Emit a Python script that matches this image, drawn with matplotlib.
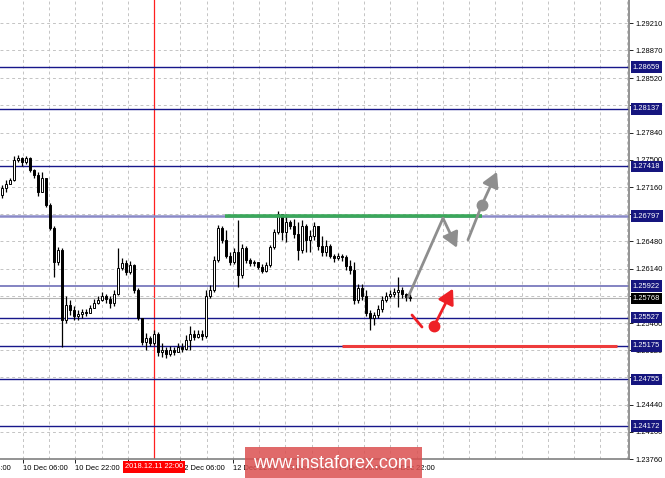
import matplotlib
matplotlib.use("Agg")
import matplotlib.pyplot as plt
import matplotlib.transforms as mtransforms
from matplotlib.patches import Rectangle

plt.rcParams['font.family'] = ['Liberation Sans', 'DejaVu Sans']

# -----------------------------
# Data
# -----------------------------
first_open = 1.2706

closes = [1.2715, 1.2720, 1.2725, 1.2750, 1.2752, 1.2747, 1.2752, 1.2737, 1.2731, 1.2710,
          1.2727, 1.2694, 1.2665, 1.2622, 1.2637, 1.2550, 1.2569, 1.2562, 1.2555, 1.2557,
          1.2560, 1.2559, 1.2565, 1.2571, 1.2575, 1.2580, 1.2576, 1.2571, 1.2582, 1.2615,
          1.2621, 1.2610, 1.2619, 1.2587, 1.2552, 1.2522, 1.2527, 1.2521, 1.2532, 1.2510,
          1.2512, 1.2507, 1.2512, 1.2510, 1.2516, 1.2514, 1.2525, 1.2532, 1.2529, 1.2532,
          1.2530, 1.2580, 1.2587, 1.2625, 1.2665, 1.2650, 1.2630, 1.2622, 1.2635, 1.2606,
          1.2640, 1.2625, 1.2621, 1.2622, 1.2616, 1.2611, 1.2619, 1.2641, 1.2660, 1.2682,
          1.2660, 1.2672, 1.2667, 1.2657, 1.2637, 1.2667, 1.2650, 1.2655, 1.2667, 1.2642,
          1.2635, 1.2642, 1.2630, 1.2627, 1.2630, 1.2629, 1.2617, 1.2612, 1.2575, 1.2590,
          1.2580, 1.2559, 1.2552, 1.2556, 1.2564, 1.2575, 1.2580, 1.2582, 1.2585, 1.2587,
          1.2582, 1.2579, 1.2577]

highs = [1.2719, 1.2725, 1.2727, 1.2755, 1.2756, 1.2754, 1.2755, 1.2754, 1.2739, 1.2735,
         1.2735, 1.2717, 1.2696, 1.2667, 1.2641, 1.2640, 1.2580, 1.2575, 1.2567, 1.2562,
         1.2564, 1.2564, 1.2569, 1.2576, 1.2580, 1.2585, 1.2582, 1.2580, 1.2587, 1.2640,
         1.2627, 1.2625, 1.2624, 1.2620, 1.2590, 1.2552, 1.2534, 1.2530, 1.2537, 1.2535,
         1.2521, 1.2516, 1.2517, 1.2516, 1.2521, 1.2521, 1.2531, 1.2542, 1.2537, 1.2537,
         1.2537, 1.2587, 1.2594, 1.2630, 1.2669, 1.2667, 1.2662, 1.2635, 1.2640, 1.2675,
         1.2645, 1.2642, 1.2627, 1.2625, 1.2622, 1.2620, 1.2622, 1.2644, 1.2664, 1.2686,
         1.2682, 1.2682, 1.2675, 1.2676, 1.2672, 1.2675, 1.2670, 1.2662, 1.2672, 1.2665,
         1.2655, 1.2650, 1.2645, 1.2632, 1.2634, 1.2632, 1.2631, 1.2625, 1.2622, 1.2595,
         1.2595, 1.2587, 1.2562, 1.2560, 1.2569, 1.2580, 1.2585, 1.2587, 1.2590, 1.2604,
         1.2591, 1.2584, 1.2582]

lows = [1.2702, 1.2710, 1.2720, 1.2724, 1.2747, 1.2742, 1.2745, 1.2735, 1.2727, 1.2705,
        1.2710, 1.2691, 1.2662, 1.2604, 1.2619, 1.2516, 1.2546, 1.2556, 1.2550, 1.2550,
        1.2552, 1.2555, 1.2559, 1.2565, 1.2570, 1.2574, 1.2571, 1.2565, 1.2567, 1.2581,
        1.2612, 1.2606, 1.2607, 1.2584, 1.2550, 1.2519, 1.2512, 1.2517, 1.2519, 1.2505,
        1.2504, 1.2502, 1.2505, 1.2506, 1.2510, 1.2510, 1.2512, 1.2512, 1.2525, 1.2527,
        1.2525, 1.2527, 1.2577, 1.2585, 1.2622, 1.2646, 1.2627, 1.2619, 1.2620, 1.2591,
        1.2602, 1.2621, 1.2617, 1.2617, 1.2614, 1.2609, 1.2610, 1.2616, 1.2639, 1.2657,
        1.2650, 1.2647, 1.2664, 1.2652, 1.2625, 1.2634, 1.2635, 1.2635, 1.2650, 1.2637,
        1.2630, 1.2630, 1.2627, 1.2622, 1.2625, 1.2624, 1.2612, 1.2607, 1.2570, 1.2571,
        1.2575, 1.2555, 1.2537, 1.2544, 1.2552, 1.2560, 1.2572, 1.2577, 1.2579, 1.2566,
        1.2577, 1.2574, 1.2574]

price_ticks = [1.29210, 1.28870, 1.28520, 1.28180, 1.27840, 1.27500, 1.27160, 1.26820,
               1.26480, 1.26140, 1.25800, 1.25460, 1.25120, 1.24780, 1.24440, 1.24100,
               1.23760]

time_labels = ["10 Dec 06:00", "10 Dec 22:00", "11 Dec 14:00", "12 Dec 06:00",
               "12 Dec 22:00", "13 Dec 14:00", "14 Dec 06:00", "14 Dec 22:00"]

levels = [1.28659, 1.28137, 1.27418, 1.26797, 1.25922, 1.25527, 1.25175, 1.24755, 1.24172]
current_price = 1.25768
resistance = 1.26797
support = 1.25175

# -----------------------------
# Figure
# -----------------------------
fig = plt.figure(figsize=(6.65, 4.78), dpi=100)
ax = fig.add_axes([0.0, 19 / 478, 629 / 665, 459 / 478])

x_min, x_max = -0.5, 156.75
ax.set_xlim(x_min, x_max)
ax.set_ylim(1.23760, 1.29498)

# grid
grid_x = [5.2 + 6.5625 * k for k in range(24)]
for gx in grid_x:
    ax.axvline(gx, color='#c4c4c4', lw=0.7, ls=(0, (3, 3)), zorder=0)
for gy in price_ticks:
    ax.axhline(gy, color='#c4c4c4', lw=0.7, ls=(0, (3, 3)), zorder=0)

# red separator line
ax.axvline(38, color='#ff2020', lw=0.9, zorder=1)

# horizontal levels
navy = '#17178a'
level_style = {
    1.26797: ('#8a8ac8', 1.8),
    1.25922: ('#6e6eb8', 1.2),
}
for lv in levels:
    col, lw = level_style.get(lv, (navy, 1.0))
    ax.axhline(lv, color=col, lw=lw, zorder=2)
ax.axhline(current_price, color='#b4b4b4', lw=0.8, zorder=2)

# candles
opens = [first_open] + closes[:-1]
for i, (o, h, l, c) in enumerate(zip(opens, highs, lows, closes)):
    top = max(h, o, c)
    bot = min(l, o, c)
    ax.vlines(i, bot, top, color='black', lw=0.9, zorder=3)
    height = max(abs(c - o), 0.00005)
    if c >= o:
        ax.add_patch(Rectangle((i - 0.36, o), 0.72, height, fc='white',
                               ec='black', lw=0.7, zorder=4))
    else:
        ax.add_patch(Rectangle((i - 0.36, c), 0.72, height, fc='black',
                               ec='black', lw=0.7, zorder=4))

# green resistance and red support segments
ax.plot([55.75, 120], [resistance, resistance], color='#3aa85a', lw=2.6,
        solid_capstyle='butt', zorder=5)
ax.plot([85, 153.75], [support, support], color='#ee3c3c', lw=2.2,
        solid_capstyle='butt', zorder=5)

# scenario arrows
gray = '#8e8e8e'
ax.plot([101.5, 110.25], [1.2578, 1.2677], color=gray, lw=2, zorder=6,
        solid_capstyle='round')
arrow_kw = dict(arrowstyle='-|>,head_length=0.9,head_width=0.5', lw=2,
                mutation_scale=10, shrinkA=0, shrinkB=0)
ax.annotate('', xy=(113.75, 1.2640), xytext=(110.25, 1.2677),
            arrowprops=dict(color=gray, **arrow_kw), zorder=6)
ax.plot([116.5, 120], [1.2650, 1.2694], color=gray, lw=2, zorder=6,
        solid_capstyle='round')
ax.plot([120], [1.2694], 'o', color=gray, ms=7.5, zorder=7)
ax.annotate('', xy=(123.75, 1.2735), xytext=(120, 1.2694),
            arrowprops=dict(color=gray, **arrow_kw), zorder=6)

red = '#ee2026'
ax.plot([102.5, 105], [1.2556, 1.2541], color=red, lw=2, zorder=6,
        solid_capstyle='round')
ax.plot([108], [1.2542], 'o', color=red, ms=7.5, zorder=7)
ax.annotate('', xy=(112.75, 1.2589), xytext=(108, 1.2542),
            arrowprops=dict(color=red, **arrow_kw), zorder=6)

# axes styling
for side in ['left', 'top']:
    ax.spines[side].set_visible(False)
ax.spines['right'].set_color('#808080')
ax.spines['bottom'].set_color('#808080')
ax.spines['right'].set_linewidth(1.2)
ax.spines['bottom'].set_linewidth(1.2)

ax.yaxis.tick_right()
ax.set_yticks(price_ticks)
ax.set_yticklabels([f"{p:.5f}" for p in price_ticks])
ax.tick_params(axis='y', length=3, width=0.6, pad=1.5, labelsize=5.4,
               colors='black')

label_pos = [5.2 + 13.125 * k for k in range(len(time_labels))]
ax.set_xticks(label_pos)
ax.set_xticklabels(time_labels, ha='left')
ax.tick_params(axis='x', length=3, width=0.6, pad=1.5, labelsize=5.4,
               colors='black')
ax.text(5.2 - 13.125, -0.012, "9 Dec 14:00", transform=mtransforms.blended_transform_factory(
    ax.transData, ax.transAxes), fontsize=5.4, ha='left', va='top', clip_on=False)

# level labels on the price axis
trans = mtransforms.blended_transform_factory(ax.transAxes, ax.transData)
for lv in levels:
    ax.text(1.006, lv, f"{lv:.5f}", transform=trans, fontsize=5.4, color='white',
            ha='left', va='center', zorder=10, clip_on=False,
            bbox=dict(boxstyle='square,pad=0.3', fc='#15157e', ec='none'))
ax.text(1.006, current_price, f"{current_price:.5f}", transform=trans, fontsize=5.4,
        color='white', ha='left', va='center', zorder=10, clip_on=False,
        bbox=dict(boxstyle='square,pad=0.3', fc='black', ec='none'))

# red time label for the separator
fig.text(154 / 665, 1 - 467 / 478, "2018.12.11 22:00", fontsize=5.4, color='white',
         ha='center', va='center', zorder=10,
         bbox=dict(boxstyle='square,pad=0.3', fc='#ff0000', ec='none'))

# watermark
fig.patches.append(Rectangle((245 / 665, 0), 177 / 665, 31 / 478,
                             transform=fig.transFigure, fc='#db5050', ec='none',
                             alpha=0.85, zorder=11))
fig.text(333 / 665, 15 / 478, "www.instaforex.com", fontsize=13, color='white',
         ha='center', va='center', zorder=12)

fig.savefig("out.png", dpi=100, facecolor='white')
plt.close(fig)
